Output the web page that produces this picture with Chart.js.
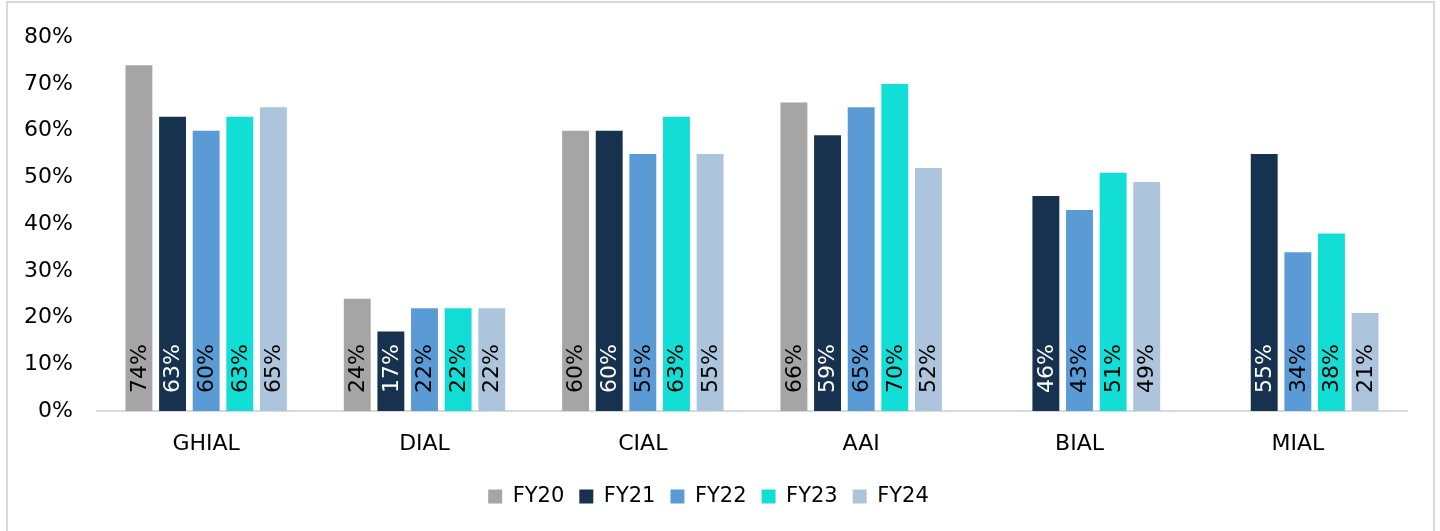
<!DOCTYPE html>
<html>
<head>
<meta charset="utf-8">
<script src="https://cdn.jsdelivr.net/npm/chart.js@4"></script>
<style>
  html, body { margin: 0; padding: 0; background: #fff; overflow: hidden; }
  #wrap { position: relative; width: 1440px; height: 531px; }
  #frame { position: absolute; left: 6px; top: 1px; width: 1429px; height: 560px;
           border: 2px solid #D9D9D9; box-sizing: border-box; pointer-events: none; }
  canvas { position: absolute; left: 0; top: 0; }
</style>
</head>
<body>
<div id="wrap">
  <canvas id="c" width="1440" height="531"></canvas>
  <div id="frame"></div>
</div>
<script>
// Airports and yearly shares (%)
const airports = ['GHIAL', 'DIAL', 'CIAL', 'AAI', 'BIAL', 'MIAL'];
const fy20 = [74, 24, 60, 66, null, null];
const fy21 = [63, 17, 60, 59, 46, 55];
const fy22 = [60, 22, 55, 65, 43, 34];
const fy23 = [63, 22, 63, 70, 51, 38];
const fy24 = [65, 22, 55, 52, 49, 21];
const yTicks = [0, 10, 20, 30, 40, 50, 60, 70, 80];

const FONT = 'DejaVu Sans';

const series = [
  { label: 'FY20', data: fy20, color: '#A5A5A5', text: '#000000' },
  { label: 'FY21', data: fy21, color: '#17324F', text: '#FFFFFF' },
  { label: 'FY22', data: fy22, color: '#5B9BD5', text: '#000000' },
  { label: 'FY23', data: fy23, color: '#12DED5', text: '#000000' },
  { label: 'FY24', data: fy24, color: '#ADC5DC', text: '#000000' }
];

// Value labels written upward from the base of each bar
const baseLabels = {
  id: 'baseLabels',
  afterDatasetsDraw(chart) {
    const ctx = chart.ctx;
    chart.data.datasets.forEach((ds, i) => {
      const meta = chart.getDatasetMeta(i);
      meta.data.forEach((bar, j) => {
        const v = ds.data[j];
        if (v === null || v === undefined) return;
        ctx.save();
        ctx.translate(bar.x, bar.base - 18);
        ctx.rotate(-Math.PI / 2);
        ctx.font = '22px "' + FONT + '"';
        ctx.fillStyle = ds.labelColor;
        ctx.textAlign = 'left';
        ctx.textBaseline = 'middle';
        ctx.fillText(v + '%', 0, 1);
        ctx.restore();
      });
    });
  }
};

new Chart(document.getElementById('c'), {
  type: 'bar',
  data: {
    labels: airports,
    datasets: series.map(s => ({
      label: s.label,
      data: s.data,
      backgroundColor: s.color,
      labelColor: s.text,
      borderWidth: 0,
      categoryPercentage: 0.77,
      barPercentage: 0.8
    }))
  },
  options: {
    responsive: false,
    animation: false,
    devicePixelRatio: 1,
    layout: { padding: { left: 10, right: 33, top: 31, bottom: 14 } },
    plugins: {
      legend: {
        position: 'bottom',
        labels: {
          font: { family: FONT, size: 21 },
          color: '#000',
          boxWidth: 14,
          boxHeight: 14,
          padding: 15
        }
      },
      tooltip: { enabled: false }
    },
    scales: {
      x: {
        grid: { display: false, drawTicks: false },
        border: { display: true, color: '#D9D9D9', width: 2 },
        ticks: { font: { family: FONT, size: 22 }, color: '#000', padding: 20, maxRotation: 0 },
        afterFit(scale) { scale.height = 60; }
      },
      y: {
        min: 0, max: 80,
        afterBuildTicks(scale) { scale.ticks = yTicks.map(v => ({ value: v })); },
        grid: { display: false, drawTicks: false },
        border: { display: false },
        ticks: {
          font: { family: FONT, size: 22 }, color: '#000', padding: 24,
          callback: v => v + '%'
        },
        afterFit(scale) { scale.width = 87; }
      }
    }
  },
  plugins: [baseLabels]
});
</script>
</body>
</html>
